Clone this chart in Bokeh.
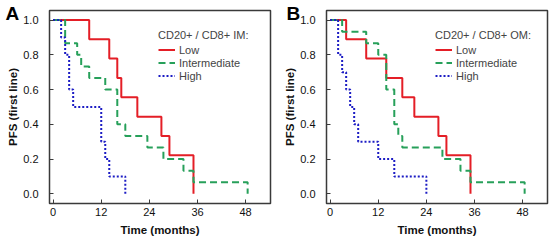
from bokeh.plotting import figure
from bokeh.layouts import row
from bokeh.models import Legend, LegendItem, FixedTicker, NumeralTickFormatter, Title
from bokeh.embed import file_html
from bokeh.resources import INLINE

# ---- data ----
month_ticks = [0, 12, 24, 36, 48]
pfs_ticks = [0.0, 0.2, 0.4, 0.6, 0.8, 1.0]
group_names = ["Low", "Intermediate", "High"]

# Panel A: CD20+ / CD8+ IM
a_low_t = [0, 9, 14, 16, 17, 21, 27, 29, 35]
a_low_s = [1.0, 0.889, 0.778, 0.667, 0.556, 0.444, 0.333, 0.222, 0.0]
a_int_t = [0, 3, 6, 7, 9, 13, 16, 18, 23.5, 27.5, 32.5, 35, 48.5]
a_int_s = [1.0, 0.867, 0.8, 0.733, 0.667, 0.6, 0.4, 0.333, 0.267, 0.2, 0.133, 0.067, 0.0]
a_high_t = [0, 2, 3, 4, 5, 12, 13, 14, 18]
a_high_s = [1.0, 0.9, 0.8, 0.6, 0.5, 0.3, 0.2, 0.1, 0.0]

# Panel B: CD20+ / CD8+ OM
b_low_t = [0, 4, 9, 14, 18, 21, 27, 29, 35]
b_low_s = [1.0, 0.889, 0.778, 0.667, 0.556, 0.444, 0.333, 0.222, 0.0]
b_int_t = [0, 3, 9, 12, 14, 16, 17, 18, 28, 32.5, 35, 48.5]
b_int_s = [1.0, 0.933, 0.867, 0.8, 0.6, 0.4, 0.333, 0.267, 0.2, 0.133, 0.067, 0.0]
b_high_t = [0, 2, 3, 4, 5, 6, 7, 12, 16, 24]
b_high_s = [1.0, 0.8, 0.7, 0.6, 0.5, 0.4, 0.3, 0.2, 0.1, 0.0]

FONT = "Liberation Sans"
COLORS = ["#e41e26", "#27a05a", "#1c1cc4"]
DASHES = ["solid", "7 4", "2 2"]


def make_panel(letter, letter_dx, legend_title, series, width, bl, br):
    p = figure(width=width, height=244, x_range=(-0.9, 54.2), y_range=(-0.056, 1.055),
               output_backend="svg", toolbar_location=None,
               min_border_left=bl, min_border_right=br, min_border_top=10, min_border_bottom=41)
    p.grid.visible = False
    p.outline_line_color = "#3a3a3a"
    p.outline_line_width = 1.5
    p.background_fill_color = "white"
    p.border_fill_color = "white"

    items = []
    for (t, s), name, col, dash in zip(series, group_names, COLORS, DASHES):
        r = p.step(t, s, mode="after", line_color=col, line_width=2, line_dash=dash)
        items.append(LegendItem(label=name, renderers=[r]))

    for ax in (p.xaxis[0], p.yaxis[0]):
        ax.axis_line_color = None
        ax.major_tick_in = 4
        ax.major_tick_out = 0
        ax.major_tick_line_color = "#3a3a3a"
        ax.major_tick_line_width = 1
        ax.minor_tick_line_color = None
        ax.major_label_text_font = FONT
        ax.major_label_text_font_size = "11px"
        ax.major_label_text_color = "#111111"
        ax.axis_label_text_font = FONT
        ax.axis_label_text_font_size = "11.5px"
        ax.axis_label_text_font_style = "bold"
        ax.axis_label_text_color = "#111111"

    p.xaxis.ticker = FixedTicker(ticks=month_ticks)
    p.yaxis.ticker = FixedTicker(ticks=pfs_ticks)
    p.yaxis.formatter = NumeralTickFormatter(format="0.0")
    p.xaxis.axis_label = "Time (months)"
    p.yaxis.axis_label = "PFS (first line)"
    p.xaxis.major_label_standoff = 4
    p.xaxis.axis_label_standoff = 5
    p.yaxis.major_label_standoff = 11
    p.yaxis.axis_label_standoff = 1

    legend = Legend(items=items, title=legend_title, location=(109, 121),
                    title_text_font=FONT, title_text_font_size="11px",
                    title_text_font_style="normal", title_standoff=2,
                    label_text_font=FONT, label_text_font_size="11px",
                    glyph_width=17, glyph_height=13, label_height=13,
                    label_standoff=4, spacing=0, padding=0, margin=0,
                    border_line_color=None, background_fill_alpha=0)
    p.add_layout(legend)

    # panel letter: a title with negative standoff so it takes no extra room
    p.add_layout(Title(text=letter, align="left", vertical_align="bottom",
                       offset=letter_dx, standoff=-26,
                       text_font=FONT, text_font_size="19px", text_font_style="bold",
                       text_color="black"), "above")
    return p


pA = make_panel("A", -44, "CD20+ / CD8+ IM:",
                [(a_low_t, a_low_s), (a_int_t, a_int_s), (a_high_t, a_high_s)], 276, 49, 6)
pB = make_panel("B", -40, "CD20+ / CD8+ OM:",
                [(b_low_t, b_low_s), (b_int_t, b_int_s), (b_high_t, b_high_s)], 276, 50, 5)

layout = row(pA, pB)
open("out.html", "w").write(file_html(layout, INLINE))
